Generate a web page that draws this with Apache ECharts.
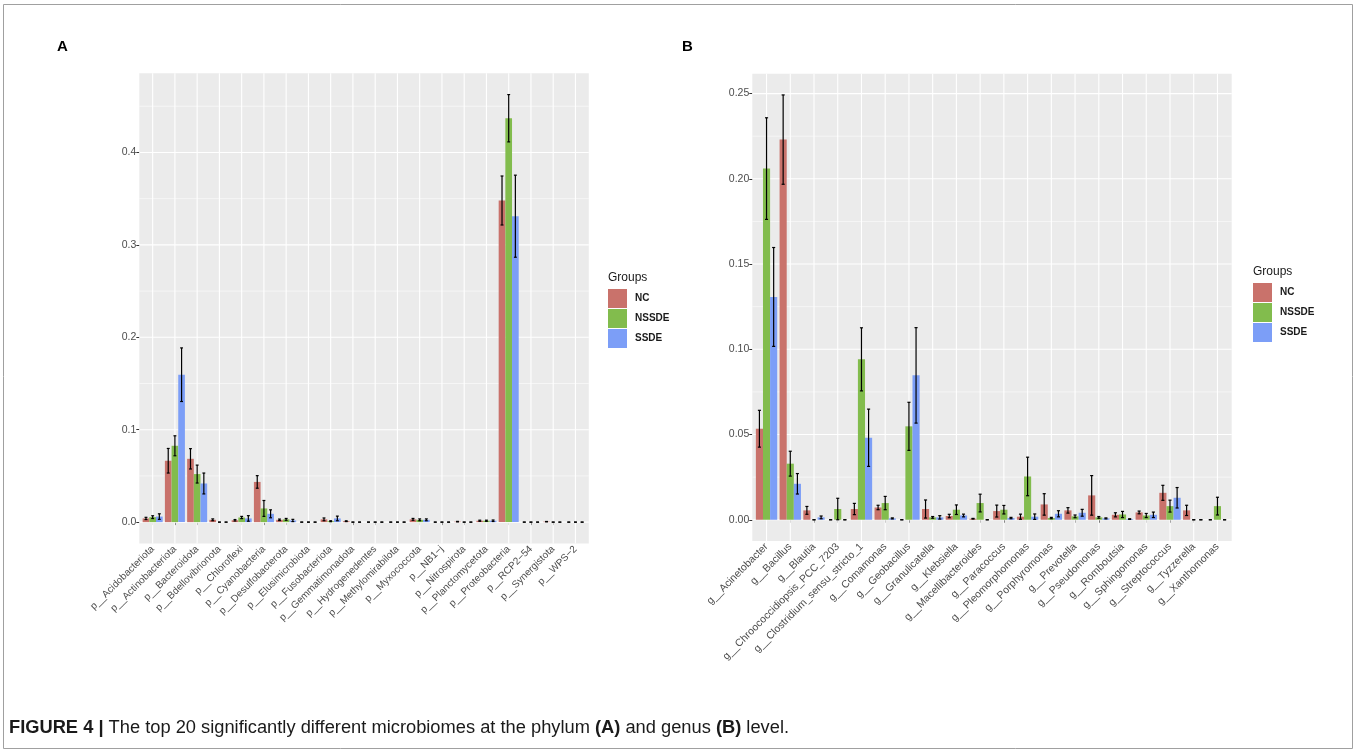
<!DOCTYPE html>
<html><head><meta charset="utf-8">
<script src="https://cdn.jsdelivr.net/npm/echarts@6/dist/echarts.min.js"></script>
<style>html,body{margin:0;padding:0;background:#fff}#c{width:1357px;height:750px}</style>
</head><body><div id="c"></div>
<script>
// ---------------- data ----------------
const groups = ['NC', 'NSSDE', 'SSDE'];

const phylumCats = ['p__Acidobacteriota','p__Actinobacteriota','p__Bacteroidota','p__Bdellovibrionota','p__Chloroflexi','p__Cyanobacteria','p__Desulfobacterota','p__Elusimicrobiota','p__Fusobacteriota','p__Gemmatimonadota','p__Hydrogenedentes','p__Methylomirabilota','p__Myxococcota','p__NB1\u2212j','p__Nitrospirota','p__Planctomycetota','p__Proteobacteria','p__RCP2\u221254','p__Synergistota','p__WPS\u22122'];
const phylumNC       = [0.004, 0.0664, 0.0685, 0.0025, 0.002, 0.0435, 0.0025, 0, 0.003, 0.001, 0, 0, 0.003, 0, 0.0005, 0.0015, 0.348, 0, 0.0005, 0];
const phylumNCErr    = [0.0012, 0.0133, 0.011, 0.001, 0.0008, 0.0068, 0.0008, 0, 0.0015, 0.0004, 0, 0, 0.001, 0, 0.0003, 0.0006, 0.0265, 0, 0.0002, 0];
const phylumNSSDE    = [0.0054, 0.0826, 0.052, 0, 0.005, 0.0148, 0.003, 0, 0.001, 0, 0, 0, 0.0025, 0, 0, 0.0015, 0.437, 0, 0, 0];
const phylumNSSDEErr = [0.0015, 0.0108, 0.0097, 0, 0.0012, 0.0086, 0.001, 0, 0.0005, 0, 0, 0, 0.001, 0, 0, 0.0006, 0.0256, 0, 0, 0];
const phylumSSDE     = [0.006, 0.1595, 0.0418, 0, 0.004, 0.009, 0.0018, 0, 0.004, 0, 0, 0, 0.0025, 0, 0, 0.0015, 0.331, 0, 0, 0];
const phylumSSDEErr  = [0.003, 0.029, 0.0113, 0, 0.003, 0.0043, 0.0012, 0, 0.0025, 0, 0, 0, 0.001, 0, 0, 0.0008, 0.0444, 0, 0, 0];
const phylumTicks = [0, 0.1, 0.2, 0.3, 0.4];
const phylumMinor = [0.05, 0.15, 0.25, 0.35, 0.45];

const genusCats = ['g__Acinetobacter','g__Bacillus','g__Blautia','g__Chroococcidiopsis_PCC_7203','g__Clostridium_sensu_stricto_1','g__Comamonas','g__Geobacillus','g__Granulicatella','g__Klebsiella','g__Macellibacteroides','g__Paracoccus','g__Pleomorphomonas','g__Porphyromonas','g__Prevotella','g__Pseudomonas','g__Romboutsia','g__Sphingomonas','g__Streptococcus','g__Tyzzerella','g__Xanthomonas'];
const genusNC       = [0.0534, 0.223, 0.0055, 0, 0.0063, 0.0072, 0, 0.0063, 0.0022, 0.0006, 0.0051, 0.0018, 0.009, 0.0055, 0.0143, 0.0029, 0.0043, 0.0158, 0.0055, 0];
const genusNCErr    = [0.0108, 0.0262, 0.0023, 0, 0.0033, 0.0013, 0, 0.0053, 0.001, 0.0002, 0.0035, 0.0015, 0.0063, 0.0016, 0.0116, 0.0012, 0.0008, 0.0044, 0.003, 0];
const genusNSSDE    = [0.206, 0.0329, 0, 0.0063, 0.0941, 0.0098, 0.0548, 0.0014, 0.0059, 0.0098, 0.0059, 0.0254, 0.001, 0.002, 0.0014, 0.0031, 0.0025, 0.008, 0, 0.008];
const genusNSSDEErr = [0.0298, 0.0073, 0, 0.0063, 0.0185, 0.0039, 0.0141, 0.0005, 0.0028, 0.0052, 0.0025, 0.0113, 0.0004, 0.0008, 0.0005, 0.0018, 0.0012, 0.0035, 0, 0.0052];
const genusSSDE     = [0.1307, 0.0211, 0.0014, 0, 0.0481, 0.0008, 0.0847, 0.0014, 0.0025, 0, 0.001, 0.0018, 0.0035, 0.0041, 0.0008, 0.0004, 0.0029, 0.0129, 0, 0];
const genusSSDEErr  = [0.029, 0.006, 0.0008, 0, 0.0168, 0.0003, 0.028, 0.001, 0.0008, 0, 0.0004, 0.0016, 0.0018, 0.002, 0.0003, 0.0002, 0.0016, 0.006, 0, 0];
const genusTicks = [0, 0.05, 0.1, 0.15, 0.2, 0.25];
const genusMinor = [0.025, 0.075, 0.125, 0.175, 0.225];

const captionText = '{b|FIGURE 4 |} The top 20 significantly different microbiomes at the phylum {b|(A)} and genus {b|(B)} level.';

// ---------------- style ----------------
const FONT = '"Liberation Sans", Arial, Helvetica, sans-serif';
const groupColors = ['#C9726B', '#82BC4D', '#7C9EF7'];
const PANEL_BG = '#EBEBEB';
const TXT = '#4D4D4D';

const chart = echarts.init(document.getElementById('c'), null, {renderer: 'canvas'});

const grids = [], xAxes = [], yAxes = [], series = [];

function addPanel(p) {
  const n = p.cats.length;
  const band = (p.right - p.left) / (n + 0.2);      // ggplot discrete expansion 0.6 units
  const means = [p.nc, p.nssde, p.ssde];
  const errs = [p.ncErr, p.nssdeErr, p.ssdeErr];
  let top = 0;
  means.forEach((arr, g) => arr.forEach((v, i) => { top = Math.max(top, v + errs[g][i]); }));
  const ymin = -0.05 * top, ymax = top * 1.05;      // ggplot continuous expansion 5%

  const bgIdx = grids.length;
  grids.push({left: p.left, width: p.right - p.left, top: p.top, height: p.bottom - p.top,
    show: true, backgroundColor: PANEL_BG, borderWidth: 0, containLabel: false});
  const dIdx = grids.length;
  grids.push({left: p.left + 0.1 * band, width: (p.right - p.left) - 0.2 * band, top: p.top, height: p.bottom - p.top,
    show: false, containLabel: false});

  xAxes.push({gridIndex: bgIdx, type: 'value', min: 0, max: 1, show: false});
  xAxes.push({gridIndex: dIdx, type: 'category', data: p.cats,
    axisLine: {show: false},
    axisTick: {show: true, alignWithLabel: true, length: 3, lineStyle: {color: '#333', width: 1}},
    axisLabel: {interval: 0, rotate: 45, fontSize: p.xFont, color: TXT, margin: 4, fontFamily: FONT},
    splitLine: {show: false}});

  yAxes.push({gridIndex: bgIdx, type: 'value', min: ymin, max: ymax,
    axisLine: {show: false},
    axisTick: {show: true, length: 3, customValues: p.ticks, lineStyle: {color: '#333', width: 1}},
    axisLabel: {customValues: p.ticks, fontSize: 10.5, color: TXT, margin: 3, fontFamily: FONT,
      formatter: v => v.toFixed(p.dec)},
    splitLine: {show: false}, minorSplitLine: {show: false}});
  yAxes.push({gridIndex: dIdx, type: 'value', min: ymin, max: ymax, show: false});

  const bgX = xAxes.length - 2, dX = xAxes.length - 1;
  const bgY = yAxes.length - 2, dY = yAxes.length - 1;

  // horizontal grid lines (major + minor)
  const hData = p.ticks.map(v => [0.5, v, 1]).concat(p.minor.map(v => [0.5, v, 0]));
  series.push({type: 'custom', xAxisIndex: bgX, yAxisIndex: bgY, silent: true, z: 1, clip: false,
    encode: {x: 0, y: 1}, data: hData,
    renderItem: (params, api) => {
      const cs = params.coordSys;
      const y = api.coord([0.5, api.value(1)])[1];
      return {type: 'line', shape: {x1: cs.x, y1: y, x2: cs.x + cs.width, y2: y},
        style: {stroke: '#FFFFFF', lineWidth: api.value(2) ? 1.1 : 0.55}};
    }});
  // vertical grid lines at category centres
  series.push({type: 'custom', xAxisIndex: dX, yAxisIndex: dY, silent: true, z: 1, clip: false,
    encode: {x: 0, y: 1}, data: p.cats.map((c, i) => [i, 0]),
    renderItem: (params, api) => {
      const cs = params.coordSys;
      const x = api.coord([api.value(0), 0])[0];
      return {type: 'line', shape: {x1: x, y1: cs.y, x2: x, y2: cs.y + cs.height},
        style: {stroke: '#FFFFFF', lineWidth: 1.1}};
    }});
  // bars
  groups.forEach((g, gi) => {
    series.push({type: 'bar', name: g, xAxisIndex: dX, yAxisIndex: dY, data: means[gi],
      barGap: '0%', barCategoryGap: '10%', z: 2,
      itemStyle: {color: groupColors[gi]}});
  });
  // error bars
  const eData = [];
  groups.forEach((g, gi) => means[gi].forEach((v, i) => eData.push([i, v, errs[gi][i], gi])));
  series.push({type: 'custom', xAxisIndex: dX, yAxisIndex: dY, silent: true, z: 3, clip: false,
    encode: {x: 0, y: 1}, data: eData,
    renderItem: (params, api) => {
      const ci = api.value(0), m = api.value(1), e = api.value(2), gi = api.value(3);
      const bw = api.size([1, 0])[0];
      const t = api.coord([ci, m + e]), b = api.coord([ci, m - e]);
      const x = t[0] + (gi - 1) * bw * 0.3;
      const hw = bw * 0.065;
      const st = {stroke: '#000', lineWidth: 1.2};
      return {type: 'group', children: [
        {type: 'line', shape: {x1: x, y1: t[1], x2: x, y2: b[1]}, style: st},
        {type: 'line', shape: {x1: x - hw, y1: t[1], x2: x + hw, y2: t[1]}, style: st},
        {type: 'line', shape: {x1: x - hw, y1: b[1], x2: x + hw, y2: b[1]}, style: st}
      ]};
    }});
}

addPanel({cats: phylumCats, nc: phylumNC, ncErr: phylumNCErr, nssde: phylumNSSDE, nssdeErr: phylumNSSDEErr,
  ssde: phylumSSDE, ssdeErr: phylumSSDEErr, ticks: phylumTicks, minor: phylumMinor, dec: 1, xFont: 10,
  left: 139.3, right: 588.8, top: 73.2, bottom: 543.5});
addPanel({cats: genusCats, nc: genusNC, ncErr: genusNCErr, nssde: genusNSSDE, nssdeErr: genusNSSDEErr,
  ssde: genusSSDE, ssdeErr: genusSSDEErr, ticks: genusTicks, minor: genusMinor, dec: 2, xFont: 10.5,
  left: 752.3, right: 1231.7, top: 73.7, bottom: 541});

const legendBase = {data: groups, orient: 'vertical', icon: 'rect', itemWidth: 19, itemHeight: 19, itemGap: 1,
  padding: 0, selectedMode: false,
  textStyle: {fontSize: 10, fontWeight: 'bold', color: '#1A1A1A', fontFamily: FONT, padding: [0, 0, 0, 3]}};

const titleBase = {padding: 0};
const option = {
  animation: false,
  backgroundColor: '#FFFFFF',
  textStyle: {fontFamily: FONT},
  title: [
    Object.assign({}, titleBase, {text: 'A', left: 57, top: 39, textStyle: {fontSize: 15, fontWeight: 'bold', color: '#000', fontFamily: FONT}}),
    Object.assign({}, titleBase, {text: 'B', left: 682, top: 39, textStyle: {fontSize: 15, fontWeight: 'bold', color: '#000', fontFamily: FONT}}),
    Object.assign({}, titleBase, {text: 'Groups', left: 608, top: 272, textStyle: {fontSize: 12, fontWeight: 'normal', color: '#1A1A1A', fontFamily: FONT}}),
    Object.assign({}, titleBase, {text: 'Groups', left: 1253, top: 266, textStyle: {fontSize: 12, fontWeight: 'normal', color: '#1A1A1A', fontFamily: FONT}}),
    Object.assign({}, titleBase, {text: captionText, left: 9, top: 719, textStyle: {fontSize: 18.3, fontWeight: 'normal', color: '#1A1A1A', fontFamily: FONT,
      rich: {b: {fontSize: 18.3, fontWeight: 'bold', color: '#1A1A1A', fontFamily: FONT}}}})
  ],
  legend: [
    Object.assign({}, legendBase, {left: 608, top: 289}),
    Object.assign({}, legendBase, {left: 1253, top: 283})
  ],
  graphic: [{type: 'rect', silent: true, z: -10, shape: {x: 3.5, y: 4.5, width: 1349, height: 744},
    style: {fill: 'none', stroke: '#A0A0A0', lineWidth: 1}}],
  grid: grids,
  xAxis: xAxes,
  yAxis: yAxes,
  series: series
};
chart.setOption(option);
</script>
</body></html>
